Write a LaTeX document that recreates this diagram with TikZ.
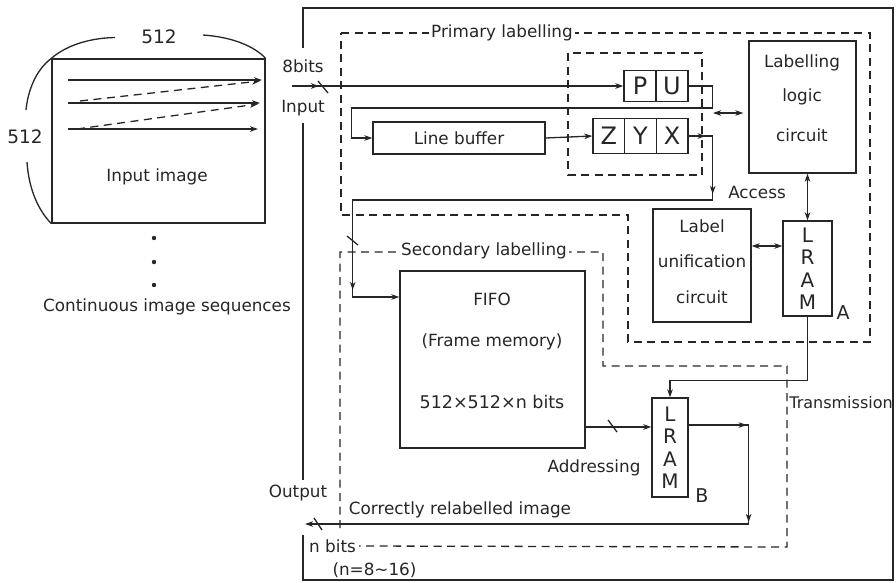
\documentclass[tikz,border=0pt]{standalone}
\usepackage{fontspec}
\setmainfont{DejaVu Sans}
\usetikzlibrary{arrows.meta,decorations.markings}
\definecolor{ink}{HTML}{262626}
\tikzset{
  >={Stealth[length=8pt,width=5.5pt,inset=2.2pt]},
  wire/.style={draw=ink,line width=1.3pt},
  dbox/.style={draw=ink,line width=1.3pt,dash pattern=on 8pt off 5.5pt},
  box/.style={draw=ink,line width=1.3pt,rectangle,inner sep=0pt},
  txt/.style={text=ink,inner sep=0pt,font=\fontsize{16.8}{19}\selectfont},
  cell/.style={box,minimum height=31pt,minimum width=32pt,text=ink,font=\fontsize{24}{24}\selectfont},
  lram/.style={box,align=center,text=ink,font=\fontsize{20}{22.5}\selectfont},
  tag/.style={txt,font=\fontsize{19}{19}\selectfont},
  mid/.style={postaction={decorate,decoration={markings,mark=at position #1 with {\arrow{>}}}}},
}
\begin{document}
\begin{tikzpicture}[x=1pt,y=-1pt]
\useasboundingbox (0,0) rectangle (896,582);

% ---------- input image and its scan order ----------
\node[box,minimum width=213pt,minimum height=164pt] (img) at (158.5,141) {};
\node[txt] (imgt) at (157,177) {Input image};
\node[txt,font=\fontsize{18.5}{18}\selectfont] (wtop) at (159,37) {512};
\node[txt,font=\fontsize{18.5}{18}\selectfont] (wleft) at (25,137) {512};
\draw[wire] (img.north west) .. controls (68,44) and (92,38) .. (115,37.5);
\draw[wire] (203,35) .. controls (232,37) and (254,46) .. (img.north east);
\draw[wire] (img.north west) .. controls (36,70) and (28,90) .. (26,110);
\draw[wire] (27,162) .. controls (29,192) and (40,212) .. (img.south west);
\draw[wire,->] (68,80) -- (262,80);
\draw[wire,->,dash pattern=on 8pt off 5.5pt] (80,101) -- (260,81);
\draw[wire,->] (68,103) -- (260,103);
\draw[wire,->,dash pattern=on 8pt off 5.5pt] (77,129) -- (258,104);
\draw[wire,->] (68,129) -- (258,129);
\fill[ink] (154,238) circle (2.2pt);
\fill[ink] (154,262) circle (2.2pt);
\fill[ink] (154,285) circle (2.2pt);
\node[txt] (seq) at (167,307) {Continuous image sequences};

% ---------- outer frame ----------
\draw[wire] (303,48) -- (303,8) -- (893,8) -- (893,580) -- (303,580) -- (303,535);
\draw[wire] (303,123) -- (303,480);
\node[txt] (bits8) at (303,66) {8bits};
\node[txt] (inl) at (303,108) {Input};
\node[txt] (outl) at (298,493) {Output};

% ---------- primary labelling ----------
\draw[dbox] (341,33) -- (870,33) -- (870,342) -- (628,342) -- (628,215) -- (341,215) -- cycle;
\node[txt,fill=white,inner xsep=2pt,inner ysep=1pt] (prim) at (502,33) {Primary labelling};
\draw[dbox] (568,53) rectangle (702,175);

\node[cell] (P) at (640,86) {P};
\node[cell] (U) at (672,86) {U};
\node[cell,minimum width=31.7pt,minimum height=35pt] (Z) at (608.8,136) {Z};
\node[cell,minimum width=31.7pt,minimum height=35pt] (Y) at (640.5,136) {Y};
\node[cell,minimum width=31.7pt,minimum height=35pt] (X) at (672.2,136) {X};
\node[box,txt,minimum width=172pt,minimum height=32pt] (LB) at (459,138) {Line buffer};

\node[box,minimum width=107pt,minimum height=132pt] (LLC) at (802.5,107) {};
\node[txt] (llc1) at (802,63) {Labelling};
\node[txt] (llc2) at (802,97) {logic};
\node[txt] (llc3) at (802,135) {circuit};

\node[box,minimum width=98pt,minimum height=113pt] (LUC) at (702,265.5) {};
\node[txt] (luc1) at (702,226) {Label};
\node[txt] (luc2) at (702,261) {unification};
\node[txt] (luc3) at (702,297) {circuit};

\node[lram,minimum width=49pt,minimum height=95pt] (RA) at (807.5,268.5) {L\\R\\A\\M};
\node[tag] (tagA) at (843,313) {A};
\node[txt] (acc) at (757,192) {Access};

% ---------- secondary labelling ----------
\node[txt,anchor=west] (nb) at (309,546) {n bits};
\draw[dbox] (340,528) -- (340,252) -- (603,252) -- (603,366) -- (787,366) -- (787,547) -- ([xshift=3pt]nb.east);
\node[txt,fill=white,inner xsep=2pt,inner ysep=1pt] (sec) at (484,251) {Secondary labelling};
\node[txt] (nrange) at (374.5,570) {(n=8∼16)};

\node[box,minimum width=185pt,minimum height=177pt] (FIFO) at (492.5,359.5) {};
\node[txt] (f1) at (492,299) {FIFO};
\node[txt] (f2) at (492,342) {(Frame memory)};
\node[txt,font=\fontsize{17.5}{19}\selectfont] (f3) at (492,402) {512×512×n bits};

\node[lram,minimum width=36pt,minimum height=99pt] (RB) at (670,447.5) {L\\R\\A\\M};
\node[tag] (tagB) at (702,496) {B};
\node[txt] (addr) at (594,468) {Addressing};
\node[txt,font=\fontsize{16}{19}\selectfont] (trans) at (841,403) {Transmission};
\node[txt] (corr) at (460,510) {Correctly relabelled image};

% ---------- connectors ----------
\coordinate (in) at (292,86);
\coordinate (out) at (305,524);
\coordinate (fb) at (713,113);

\draw[wire,->,mid=27pt] (in) -- (P.west);
\draw[wire] (318,81) -- (328,93);

\draw[wire,->] (U.east) -- ++(24,0) -- ++(0,22) -| ([xshift=-21pt]LB.west) -- (LB.west);
\draw[wire,->] (LB.east) -- (Z.west);
\draw[wire,<->] (fb) -- ([xshift=-5pt]fb -| LLC.west);

\draw[wire,->,mid=17pt,mid=82pt,mid=538pt] (X.east) -- ++(24,0) -- ++(0,64) -- ++(-360,0) -- ++(0,97) -- ([yshift=62.5pt]FIFO.west);
\draw[wire] (347,236) -- (358,245);

\draw[wire,<->] (RA.north |- LLC.south) -- (RA.north);
\draw[wire,<->] ([yshift=19.5pt]LUC.east) -- ([yshift=22.5pt]RA.west);
\draw[wire,->] (RA.south) -- ++(0,64) -| (RB.north);

\draw[wire,->] ([yshift=-67.5pt]FIFO.east) -- ([yshift=20.5pt]RB.west);
\draw[wire] (608,420) -- (617,432);

\draw[wire,->,mid=58pt,mid=157pt] ([yshift=22.5pt]RB.east) -- ++(60,0) -- ++(0,99) -- (out);
\draw[wire] (314,518) -- (322,530);
\end{tikzpicture}
\end{document}
